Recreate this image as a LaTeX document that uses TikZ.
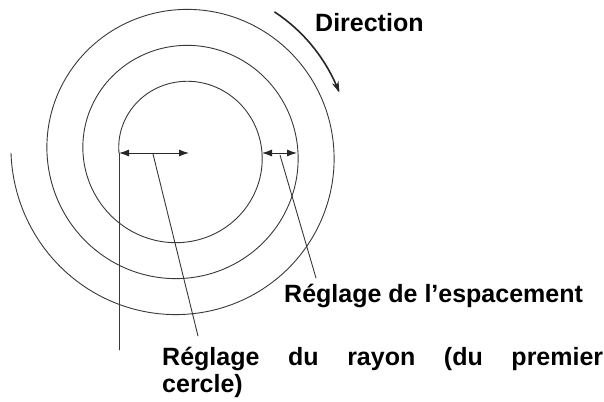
\documentclass[tikz,border=0pt]{standalone}
\usepackage{fontspec}
\setmainfont{Liberation Sans}
\usetikzlibrary{arrows.meta}
\begin{document}
\begin{tikzpicture}[x=1pt,y=-1pt,line cap=round,
  thinline/.style={draw=black!78,line width=0.9pt},
  dimarrow/.style={draw=black!85,line width=1pt,{Latex[length=10pt,width=7pt]}-{Latex[length=10pt,width=7pt]}},
  lbl/.style={inner sep=0pt,anchor=base west,font=\bfseries\fontsize{25}{27}\selectfont}]
\useasboundingbox (0,0) rectangle (604,401);
% spiral
\coordinate (c) at (181.5,153);
\draw[thinline] plot[domain=0:1080,samples=600,smooth] ({181.5-(62.5+0.1*\x)*cos(\x)},{153-(62.5+0.1*\x)*sin(\x)});
% reference points
\coordinate (rl) at (119,153);
\coordinate (rr) at (189,153);
\coordinate (sl) at (262,153);
\coordinate (sr) at (297,153);
\coordinate (vend) at (119,350);
\coordinate (rm) at (153,154);
\coordinate (sm) at (280,155);
\coordinate (rle) at (198,336);
\coordinate (sle) at (316,278);
% vertical start line
\draw[thinline] (rl) -- (vend);
% dimension arrows
\draw[dimarrow] (rl) -- (rr);
\draw[dimarrow] (sl) -- (sr);
% leaders
\draw[thinline] (rm) -- (rle);
\draw[thinline] (sm) -- (sle);
% direction arrow
\draw[draw=black!85,line width=1.6pt,-{Stealth[length=11pt,width=7pt]}] plot[domain=-56.5:-21,samples=60,smooth] ({181.5+169*cos(\x)},{153+169*sin(\x)});
% labels
\node[lbl] (dir) at (315,32) {Direction};
\node[lbl] (esp) at (284,302) {Réglage de l’espacement};
\node[lbl] (ray1) at (162,365) {\hbox to 441pt{Réglage\hfill du\hfill rayon\hfill (du\hfill premier}};
\node[lbl] (ray2) at (162,392) {cercle)};
\end{tikzpicture}
\end{document}
